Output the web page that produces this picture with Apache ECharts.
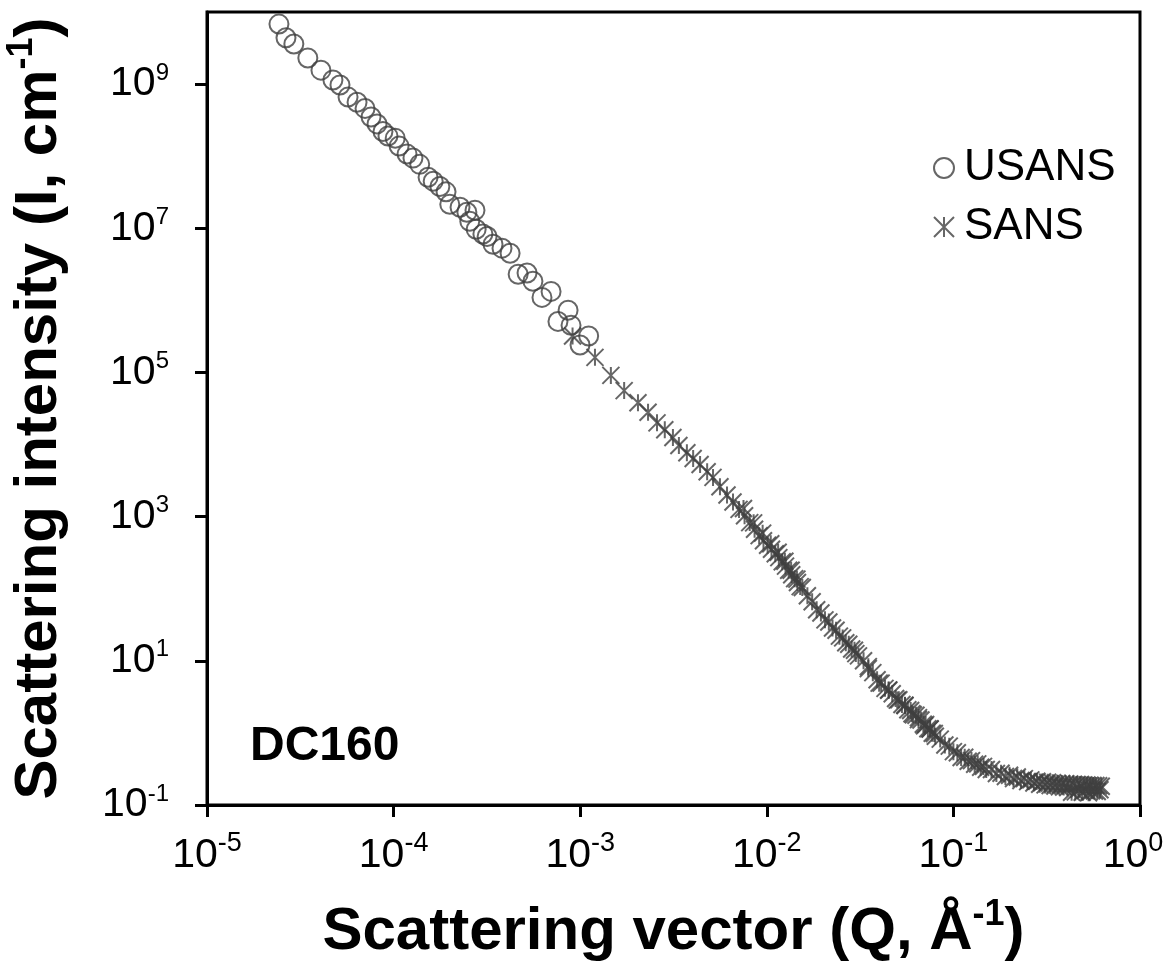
<!DOCTYPE html>
<html>
<head>
<meta charset="utf-8">
<script src="https://cdn.jsdelivr.net/npm/echarts/dist/echarts.min.js"></script>
<style>
html,body{margin:0;padding:0;background:#fff;}
#chart{width:1168px;height:977px;}
</style>
</head>
<body>
<div id="chart"></div>
<script>
// DC160 scattering curve, USANS + SANS, log-log
var FONT = 'Liberation Sans, Arial, sans-serif';
var MARK = '#404040';

var xTicks = [1e-5, 1e-4, 1e-3, 1e-2, 1e-1, 1];
var yTicks = [1e-1, 1e1, 1e3, 1e5, 1e7, 1e9];

var usansQ = [2.43e-5, 2.65e-5, 2.92e-5, 3.47e-5, 4.08e-5, 4.73e-5, 5.16e-5, 5.70e-5, 6.37e-5, 7.03e-5,
  7.57e-5, 8.15e-5, 8.77e-5, 9.33e-5, 1.02e-4, 1.07e-4, 1.18e-4, 1.27e-4, 1.38e-4, 1.53e-4,
  1.63e-4, 1.77e-4, 1.91e-4, 2.00e-4, 2.27e-4, 2.47e-4, 2.73e-4, 2.56e-4, 2.77e-4, 3.01e-4,
  3.17e-4, 3.41e-4, 3.81e-4, 4.21e-4, 4.65e-4, 5.19e-4, 5.58e-4, 6.24e-4, 6.98e-4, 7.60e-4,
  8.61e-4, 8.93e-4, 9.98e-4, 1.11e-3];
var usansI = [6.8e9, 4.4e9, 3.6e9, 2.3e9, 1.56e9, 1.14e9, 9.7e8, 6.6e8, 5.6e8, 4.6e8,
  3.5e8, 2.8e8, 2.2e8, 1.9e8, 1.78e8, 1.38e8, 1.07e8, 9.4e7, 7.7e7, 5.1e7,
  4.5e7, 3.8e7, 3.2e7, 2.15e7, 1.96e7, 1.67e7, 1.78e7, 1.25e7, 9.7e6, 8.3e6,
  7.7e6, 6.0e6, 5.3e6, 4.5e6, 2.3e6, 2.4e6, 1.84e6, 1.10e6, 1.33e6, 5.1e5,
  7.3e5, 4.5e5, 2.4e5, 3.2e5];

// SANS, low-Q detector setting
var sans1Q = [9.1e-4, 1.20e-3, 1.46e-3, 1.72e-3, 2.04e-3, 2.31e-3, 2.58e-3, 2.84e-3, 3.14e-3, 3.38e-3,
  3.73e-3, 4.03e-3, 4.39e-3, 4.79e-3, 5.15e-3, 5.61e-3, 6.12e-3, 6.59e-3, 7.1e-3, 7.6e-3,
  8.1e-3, 8.6e-3, 9.1e-3, 9.6e-3, 1.01e-2, 1.06e-2, 1.11e-2, 1.16e-2, 1.21e-2, 1.26e-2,
  1.31e-2, 1.36e-2, 1.41e-2, 1.46e-2, 1.51e-2];
var sans1I = [3.2e5, 1.62e5, 9.1e4, 5.6e4, 3.8e4, 2.8e4, 2.0e4, 1.6e4, 1.25e4, 9.7e3,
  7.7e3, 6.4e3, 5.3e3, 4.2e3, 3.5e3, 2.6e3, 2.0e3, 1.6e3, 1.26e3, 1.03e3,
  826, 670, 545, 464, 402, 352, 306, 270, 237, 206,
  180, 156, 138, 122, 107];

// SANS, middle setting
var sans2Q = [0.0075, 0.0085, 0.0095, 0.0105, 0.0115, 0.0125, 0.0135, 0.0145, 0.0155, 0.0165,
  0.0175, 0.0185, 0.0195, 0.0205, 0.0215, 0.0225, 0.0235, 0.0245, 0.0255, 0.0265,
  0.0275, 0.0285, 0.0295, 0.031, 0.033, 0.035, 0.037, 0.039, 0.041, 0.043,
  0.045, 0.047, 0.049, 0.051, 0.053, 0.055, 0.057, 0.059, 0.061, 0.063,
  0.065, 0.067, 0.069, 0.071, 0.073, 0.075, 0.077, 0.079];
var sans2I = [1300, 820, 590, 420, 320, 240, 180, 136, 104, 80,
  66, 51, 46, 37, 34.5, 28.5, 26.5, 22, 20.8, 17.8,
  17.0, 14.6, 14.0, 11.7, 10.0, 7.8, 6.85, 5.45, 4.9, 4.15,
  3.9, 3.5, 3.0, 2.88, 2.48, 2.40, 2.09, 2.05, 1.79, 1.76,
  1.53, 1.51, 1.32, 1.31, 1.14, 1.13, 0.99, 0.98];

// SANS, high-Q setting
var sans3Q = [0.030, 0.035, 0.040, 0.045, 0.050, 0.055, 0.060, 0.065, 0.070, 0.075,
  0.080, 0.085, 0.090, 0.095, 0.100, 0.105, 0.110, 0.115, 0.120, 0.125,
  0.130, 0.135, 0.140, 0.145, 0.150, 0.16, 0.17, 0.18, 0.19, 0.20,
  0.21, 0.22, 0.23, 0.24, 0.25, 0.26, 0.27, 0.28, 0.29, 0.30,
  0.31, 0.32, 0.33, 0.34, 0.35, 0.36, 0.37, 0.38, 0.39, 0.40,
  0.41, 0.42, 0.43, 0.44, 0.45, 0.46, 0.47, 0.48, 0.49, 0.50,
  0.51, 0.52, 0.53, 0.54, 0.55, 0.56, 0.57, 0.58, 0.59, 0.60,
  0.61, 0.62];
var sans3I = [12.6, 8.3, 4.9, 3.95, 2.85, 2.42, 1.84, 1.63, 1.26, 1.14,
  0.90, 0.82, 0.68, 0.655, 0.55, 0.53, 0.455, 0.46, 0.405, 0.413,
  0.368, 0.372, 0.334, 0.343, 0.311, 0.31, 0.273, 0.276, 0.249, 0.259,
  0.233, 0.244, 0.219, 0.232, 0.211, 0.223, 0.202, 0.214, 0.194, 0.21,
  0.19, 0.207, 0.186, 0.204, 0.183, 0.201, 0.179, 0.199, 0.177, 0.197,
  0.174, 0.196, 0.150, 0.194, 0.152, 0.193, 0.165, 0.192, 0.150, 0.190,
  0.160, 0.189, 0.148, 0.188, 0.158, 0.187, 0.156, 0.186, 0.154, 0.185,
  0.163, 0.182];

function zip(qs, is) {
  var out = [];
  for (var i = 0; i < qs.length; i++) {
    out.push([qs[i], is[i]]);
  }
  return out;
}

var usansData = zip(usansQ, usansI);
var sansData = zip(sans1Q, sans1I).concat(zip(sans2Q, sans2I)).concat(zip(sans3Q, sans3I));

function powLabel(v) {
  var e = Math.round(Math.log(v) / Math.LN10);
  return '{b|10}{s|' + e + '}';
}

// last x label sits at the chart's right edge, nudge it left a bit
function powLabelX(v) {
  var e = Math.round(Math.log(v) / Math.LN10);
  if (e === 0) {
    return '{b|10}{e|0}';
  }
  return '{b|10}{s|' + e + '}';
}

var starPath = 'path://M0,0L16,16M16,0L0,16M8,0L8,16';

var chart = echarts.init(document.getElementById('chart'));
chart.setOption({
  animation: false,
  backgroundColor: '#fff',
  grid: {
    left: 207, right: 28, top: 12, bottom: 172,
    outerBoundsMode: 'none',
    show: true, borderColor: '#000', borderWidth: 3
  },
  legend: {
    orient: 'vertical',
    left: 928,
    top: 141,
    itemWidth: 30,
    itemHeight: 20,
    itemGap: 15,
    data: ['USANS', 'SANS'],
    textStyle: {fontSize: 44, color: '#000', fontFamily: FONT}
  },
  xAxis: {
    type: 'log',
    logBase: 10,
    min: 1e-5,
    max: 1,
    splitLine: {show: false},
    axisLine: {lineStyle: {color: '#000', width: 3}},
    axisTick: {inside: false, length: 12, customValues: xTicks, lineStyle: {color: '#000', width: 3}},
    axisLabel: {
      customValues: xTicks,
      margin: 25,
      color: '#000',
      formatter: powLabelX,
      rich: {
        b: {fontSize: 41, lineHeight: 52, color: '#000', fontFamily: FONT},
        s: {fontSize: 27, lineHeight: 27, verticalAlign: 'top', color: '#000', fontFamily: FONT},
        e: {fontSize: 27, lineHeight: 27, verticalAlign: 'top', color: '#000', fontFamily: FONT, padding: [0, 14, 0, 0]}
      }
    },
    name: '{t|Scattering vector (Q, Å}{s|-1}{t|)}',
    nameLocation: 'middle',
    nameGap: 92,
    nameTextStyle: {
      rich: {
        t: {fontSize: 60, fontWeight: 'bold', lineHeight: 70, color: '#000', fontFamily: FONT},
        s: {fontSize: 36, fontWeight: 'bold', lineHeight: 36, verticalAlign: 'top', color: '#000', fontFamily: FONT}
      }
    }
  },
  yAxis: {
    type: 'log',
    logBase: 10,
    min: 1e-1,
    max: 1e10,
    splitLine: {show: false},
    axisLine: {lineStyle: {color: '#000', width: 3}},
    axisTick: {inside: false, length: 12, customValues: yTicks, lineStyle: {color: '#000', width: 3}},
    axisLabel: {
      customValues: yTicks,
      margin: 38,
      color: '#000',
      formatter: powLabel,
      rich: {
        b: {fontSize: 41, lineHeight: 46, color: '#000', fontFamily: FONT},
        s: {fontSize: 24, lineHeight: 24, verticalAlign: 'top', color: '#000', fontFamily: FONT}
      }
    },
    name: '{t|Scattering intensity (I, cm}{s|-1}{t|)}',
    nameLocation: 'middle',
    nameGap: 133,
    nameTextStyle: {
      rich: {
        t: {fontSize: 60, fontWeight: 'bold', lineHeight: 70, color: '#000', fontFamily: FONT},
        s: {fontSize: 36, fontWeight: 'bold', lineHeight: 36, verticalAlign: 'top', color: '#000', fontFamily: FONT}
      }
    }
  },
  graphic: [
    {
      type: 'text',
      left: 250,
      top: 723,
      style: {text: 'DC160', font: 'bold 48px ' + FONT, fill: '#000'}
    }
  ],
  series: [
    {
      name: 'USANS',
      type: 'scatter',
      symbol: 'circle',
      symbolSize: 19,
      itemStyle: {color: 'rgba(0,0,0,0)', borderColor: MARK, borderWidth: 2},
      data: usansData
    },
    {
      name: 'SANS',
      type: 'scatter',
      symbol: starPath,
      symbolSize: 17,
      itemStyle: {color: 'rgba(0,0,0,0)', borderColor: MARK, borderWidth: 2},
      data: sansData
    }
  ]
});
</script>
</body>
</html>
